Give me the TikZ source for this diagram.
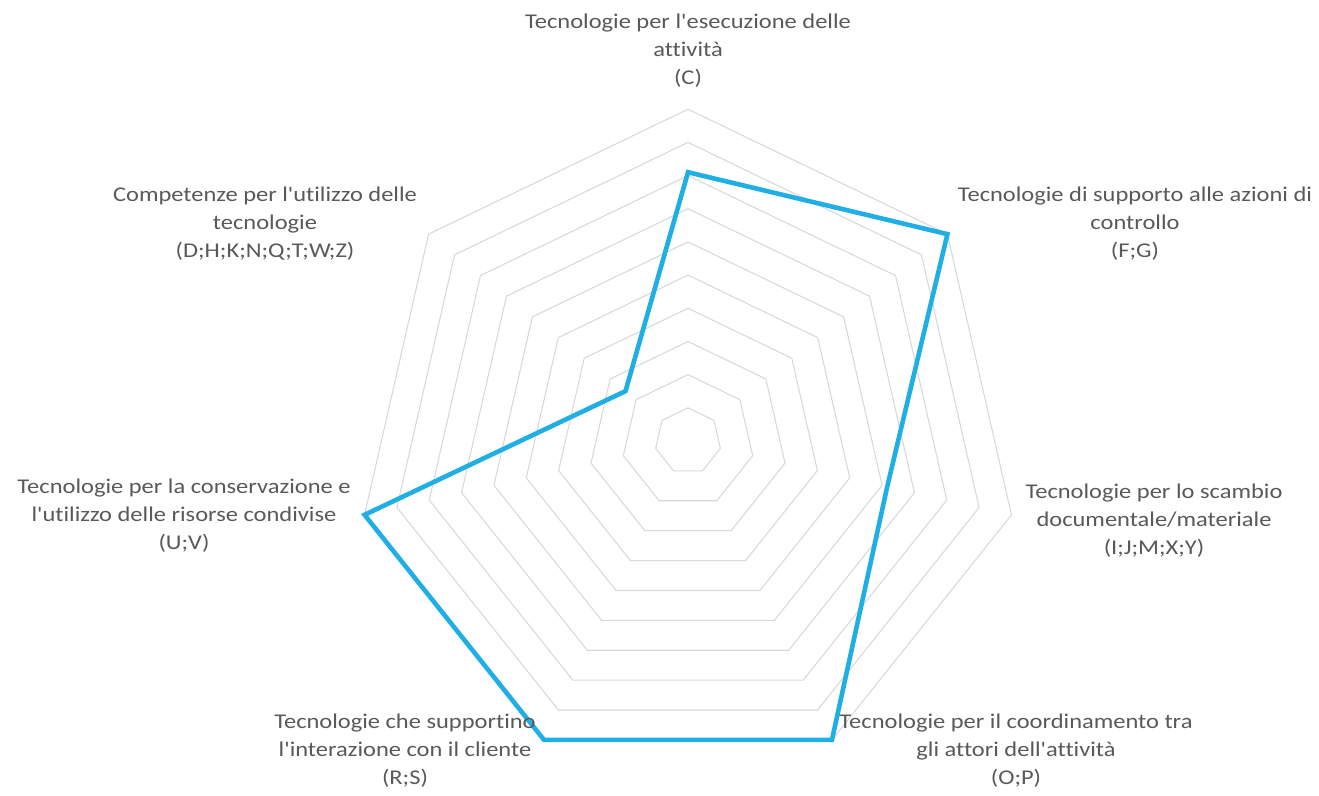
\documentclass[tikz,border=0pt]{standalone}
\usepackage{fontspec}
\newfontfamily\lblfont{Carlito}[FakeStretch=1.165,Ligatures=NoCommon]
\definecolor{gridgray}{HTML}{D9D9D9}
\definecolor{txtgray}{HTML}{595959}
\definecolor{serieblue}{HTML}{1FAFE4}
\begin{document}
\begin{tikzpicture}[x=1pt,y=-1pt,
  gridline/.style={draw=gridgray,line width=1.1pt,line join=miter},
  serie/.style={draw=serieblue,line width=4.6pt,line join=miter},
  axislabel/.style={text=txtgray,align=center,inner sep=0pt,font=\lblfont\fontsize{21}{28}\selectfont}]
\useasboundingbox (0,0) rectangle (1319,795);
\def\cx{688}\def\cy{441}\def\R{331.8}
% grid
\foreach \k in {1,...,10}{
  \pgfmathsetmacro\r{\R*\k/10}
  \draw[gridline] ({\cx+\r*cos(90)},{\cy-\r*sin(90)})
    \foreach \i in {1,...,6}{ -- ({\cx+\r*cos(90-\i*360/7)},{\cy-\r*sin(90-\i*360/7)}) } -- cycle;
}
% data points
\foreach \n/\v/\i in {vC/0.81/0, vFG/1/1, vIJ/0.616/2, vOP/1/3, vRS/1/4, vUV/1/5, vDH/0.241/6}{
  \coordinate (\n) at ({\cx+\v*\R*cos(90-\i*360/7)},{\cy-\v*\R*sin(90-\i*360/7)});
}
\draw[serie] (vC) -- (vFG) -- (vIJ) -- (vOP) -- (vRS) -- (vUV) -- (vDH) -- cycle;
% labels
\node[axislabel] (lC) at (688,50.5) {Tecnologie per l'esecuzione delle\\attività\\(C)};
\node[axislabel] (lFG) at (1135,223.5) {Tecnologie di supporto alle azioni di\\controllo\\(F;G)};
\node[axislabel] (lIJ) at (1154,520.5) {Tecnologie per lo scambio\\documentale/materiale\\(I;J;M;X;Y)};
\node[axislabel] (lOP) at (1016,750.5) {Tecnologie per il coordinamento tra\\gli attori dell'attività\\(O;P)};
\node[axislabel] (lRS) at (405,750.5) {Tecnologie che supportino\\l'interazione con il cliente\\(R;S)};
\node[axislabel] (lUV) at (184,515.5) {Tecnologie per la conservazione e\\l'utilizzo delle risorse condivise\\(U;V)};
\node[axislabel] (lDH) at (265,223.5) {Competenze per l'utilizzo delle\\tecnologie\\(D;H;K;N;Q;T;W;Z)};
\end{tikzpicture}
\end{document}
